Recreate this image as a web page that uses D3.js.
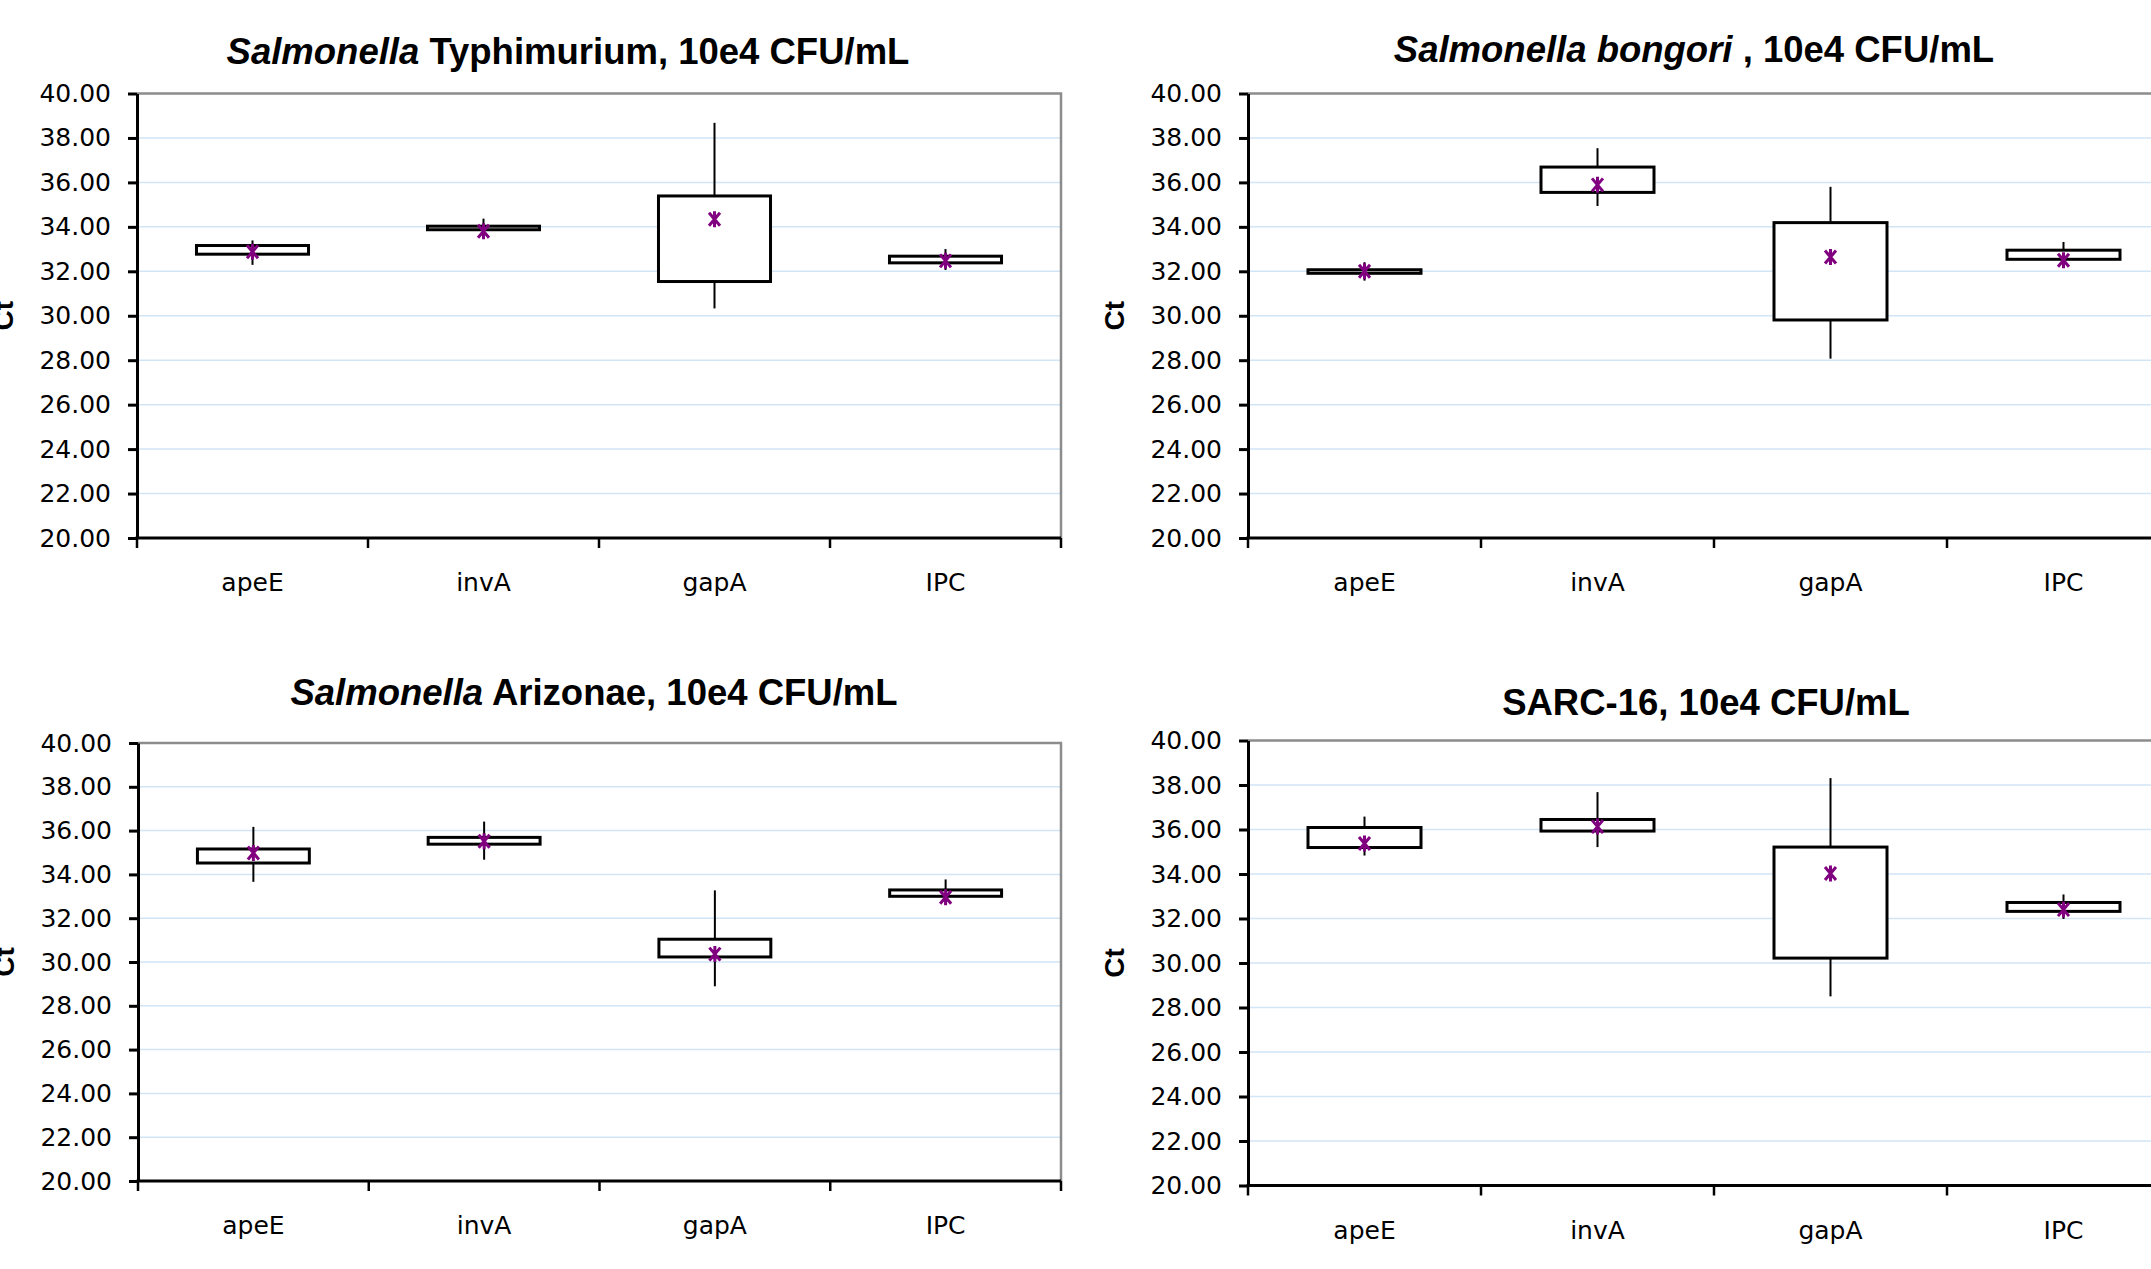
<!DOCTYPE html>
<html>
<head>
<meta charset="utf-8">
<script src="https://cdn.jsdelivr.net/npm/d3@7"></script>
<style>
  body { margin: 0; background: #fff; }
  svg { display: block; }
</style>
</head>
<body>
<div id="chart"></div>
<script>
// categories and y ticks
const genes = ["apeE", "invA", "gapA", "IPC"];
const yTicks = [20, 22, 24, 26, 28, 30, 32, 34, 36, 38, 40];

// Salmonella Typhimurium
const typhiLow  = [32.29, 33.55, 30.33, 32.06];
const typhiQ1   = [32.77, 33.87, 31.54, 32.38];
const typhiQ3   = [33.16, 34.03, 35.39, 32.68];
const typhiHigh = [33.39, 34.37, 38.68, 33.00];
const typhiMean = [32.88, 33.80, 34.34, 32.47];

// Salmonella bongori
const bongLow  = [31.58, 34.94, 28.07, 32.20];
const bongQ1   = [31.91, 35.55, 29.81, 32.54];
const bongQ3   = [32.07, 36.69, 34.19, 32.95];
const bongHigh = [32.41, 37.54, 35.80, 33.32];
const bongMean = [32.00, 35.89, 32.64, 32.50];

// Salmonella Arizonae
const ariLow  = [33.66, 34.67, 28.89, 32.61];
const ariQ1   = [34.52, 35.38, 30.23, 33.00];
const ariQ3   = [35.16, 35.69, 31.04, 33.29];
const ariHigh = [36.17, 36.41, 33.27, 33.77];
const ariMean = [34.98, 35.51, 30.36, 32.96];

// SARC-16
const sarcLow  = [34.83, 35.21, 28.50, 31.98];
const sarcQ1   = [35.19, 35.93, 30.22, 32.32];
const sarcQ3   = [36.09, 36.45, 35.21, 32.72];
const sarcHigh = [36.58, 37.68, 38.31, 33.08];
const sarcMean = [35.37, 36.13, 34.02, 32.40];

const panels = [
  { italic: "Salmonella", rest: " Typhimurium, 10e4 CFU/mL",
    low: typhiLow, q1: typhiQ1, q3: typhiQ3, high: typhiHigh, mean: typhiMean,
    left: 137, right: 1061, top: 93.5, bottom: 538, tx: 568, ty: 64 },
  { italic: "Salmonella bongori", rest: " , 10e4 CFU/mL",
    low: bongLow, q1: bongQ1, q3: bongQ3, high: bongHigh, mean: bongMean,
    left: 1248, right: 2180, top: 93.5, bottom: 538, tx: 1694, ty: 62 },
  { italic: "Salmonella", rest: " Arizonae, 10e4 CFU/mL",
    low: ariLow, q1: ariQ1, q3: ariQ3, high: ariHigh, mean: ariMean,
    left: 138, right: 1061, top: 743, bottom: 1181, tx: 594, ty: 705 },
  { italic: "", rest: "SARC-16, 10e4 CFU/mL",
    low: sarcLow, q1: sarcQ1, q3: sarcQ3, high: sarcHigh, mean: sarcMean,
    left: 1248, right: 2180, top: 740.5, bottom: 1185.5, tx: 1706, ty: 715 }
];

const W = 2151, H = 1269;
const svg = d3.select("#chart").append("svg")
  .attr("width", W).attr("height", H)
  .style("background", "#fff");

panels.forEach(function(p) {
  const g = svg.append("g");

  const x = d3.scaleBand().domain(genes).range([p.left, p.right]);
  const y = d3.scaleLinear().domain([20, 40]).range([p.bottom, p.top]);

  // gridlines
  g.selectAll(".grid")
    .data(yTicks.filter(function(d) { return d > 20 && d < 40; }))
    .enter().append("line")
    .attr("x1", p.left).attr("x2", p.right)
    .attr("y1", function(d) { return y(d); })
    .attr("y2", function(d) { return y(d); })
    .attr("stroke", "#d2e5f6").attr("stroke-width", 1.5);

  // top and right border
  g.append("path")
    .attr("d", "M" + p.left + "," + p.top + "H" + p.right + "V" + p.bottom)
    .attr("fill", "none").attr("stroke", "#8c8c8c").attr("stroke-width", 2.5);

  // y axis
  const yAxis = g.append("g")
    .attr("transform", "translate(" + p.left + ",0)")
    .call(d3.axisLeft(y).tickValues(yTicks).tickFormat(d3.format(".2f"))
      .tickSize(9).tickSizeOuter(0).tickPadding(17));
  yAxis.select(".domain").attr("stroke", "#000").attr("stroke-width", 3);
  yAxis.selectAll(".tick line").attr("stroke", "#000").attr("stroke-width", 3);
  yAxis.selectAll(".tick text")
    .style("font-family", "DejaVu Sans").style("font-size", "25px").attr("fill", "#000");

  // x axis: line, boundary ticks, centred labels
  g.append("line")
    .attr("x1", p.left - 1.5).attr("x2", p.right)
    .attr("y1", p.bottom).attr("y2", p.bottom)
    .attr("stroke", "#000").attr("stroke-width", 3);
  g.selectAll(".xtick")
    .data(d3.range(genes.length + 1))
    .enter().append("line")
    .attr("x1", function(i) { return p.left + i * x.step(); })
    .attr("x2", function(i) { return p.left + i * x.step(); })
    .attr("y1", p.bottom).attr("y2", p.bottom + 10)
    .attr("stroke", "#000").attr("stroke-width", 2.5);
  g.selectAll(".xlabel")
    .data(genes)
    .enter().append("text")
    .attr("x", function(d) { return x(d) + x.bandwidth() / 2; })
    .attr("y", p.bottom + 53)
    .attr("text-anchor", "middle")
    .style("font-family", "DejaVu Sans").style("font-size", "25px")
    .text(function(d) { return d; });

  // y axis title
  g.append("text")
    .attr("transform", "translate(" + (p.left - 124) + "," + ((p.top + p.bottom) / 2) + ") rotate(-90)")
    .attr("text-anchor", "middle")
    .style("font-family", "Liberation Sans, Arial").style("font-weight", "bold")
    .style("font-size", "28px")
    .text("Ct");

  // chart title
  const t = g.append("text")
    .attr("x", p.tx).attr("y", p.ty)
    .attr("text-anchor", "middle")
    .style("font-family", "Liberation Sans, Arial").style("font-weight", "bold")
    .style("font-size", "36.5px");
  if (p.italic) t.append("tspan").style("font-style", "italic").text(p.italic);
  t.append("tspan").text(p.rest);

  const bw = x.bandwidth() * 0.485;
  const cx = function(i) { return x(genes[i]) + x.bandwidth() / 2; };
  const idx = d3.range(genes.length);

  // whiskers
  g.selectAll(".whisker")
    .data(idx).enter().append("line")
    .attr("x1", cx).attr("x2", cx)
    .attr("y1", function(i) { return y(p.high[i]); })
    .attr("y2", function(i) { return y(p.low[i]); })
    .attr("stroke", "#000").attr("stroke-width", 2);

  // boxes
  g.selectAll(".box")
    .data(idx).enter().append("rect")
    .attr("x", function(i) { return cx(i) - bw / 2; })
    .attr("width", bw)
    .attr("y", function(i) { return y(p.q3[i]); })
    .attr("height", function(i) { return y(p.q1[i]) - y(p.q3[i]); })
    .attr("fill", "#fff").attr("stroke", "#000").attr("stroke-width", 3);

  // mean markers (star)
  g.selectAll(".mean")
    .data(idx).enter().append("path")
    .attr("transform", function(i) { return "translate(" + cx(i) + "," + y(p.mean[i]) + ")"; })
    .attr("d", "M-5.5,-6.5L5.5,6.5M-5.5,6.5L5.5,-6.5M0,-8L0,8")
    .attr("fill", "none").attr("stroke", "#800080").attr("stroke-width", 3);
});
</script>
</body>
</html>
